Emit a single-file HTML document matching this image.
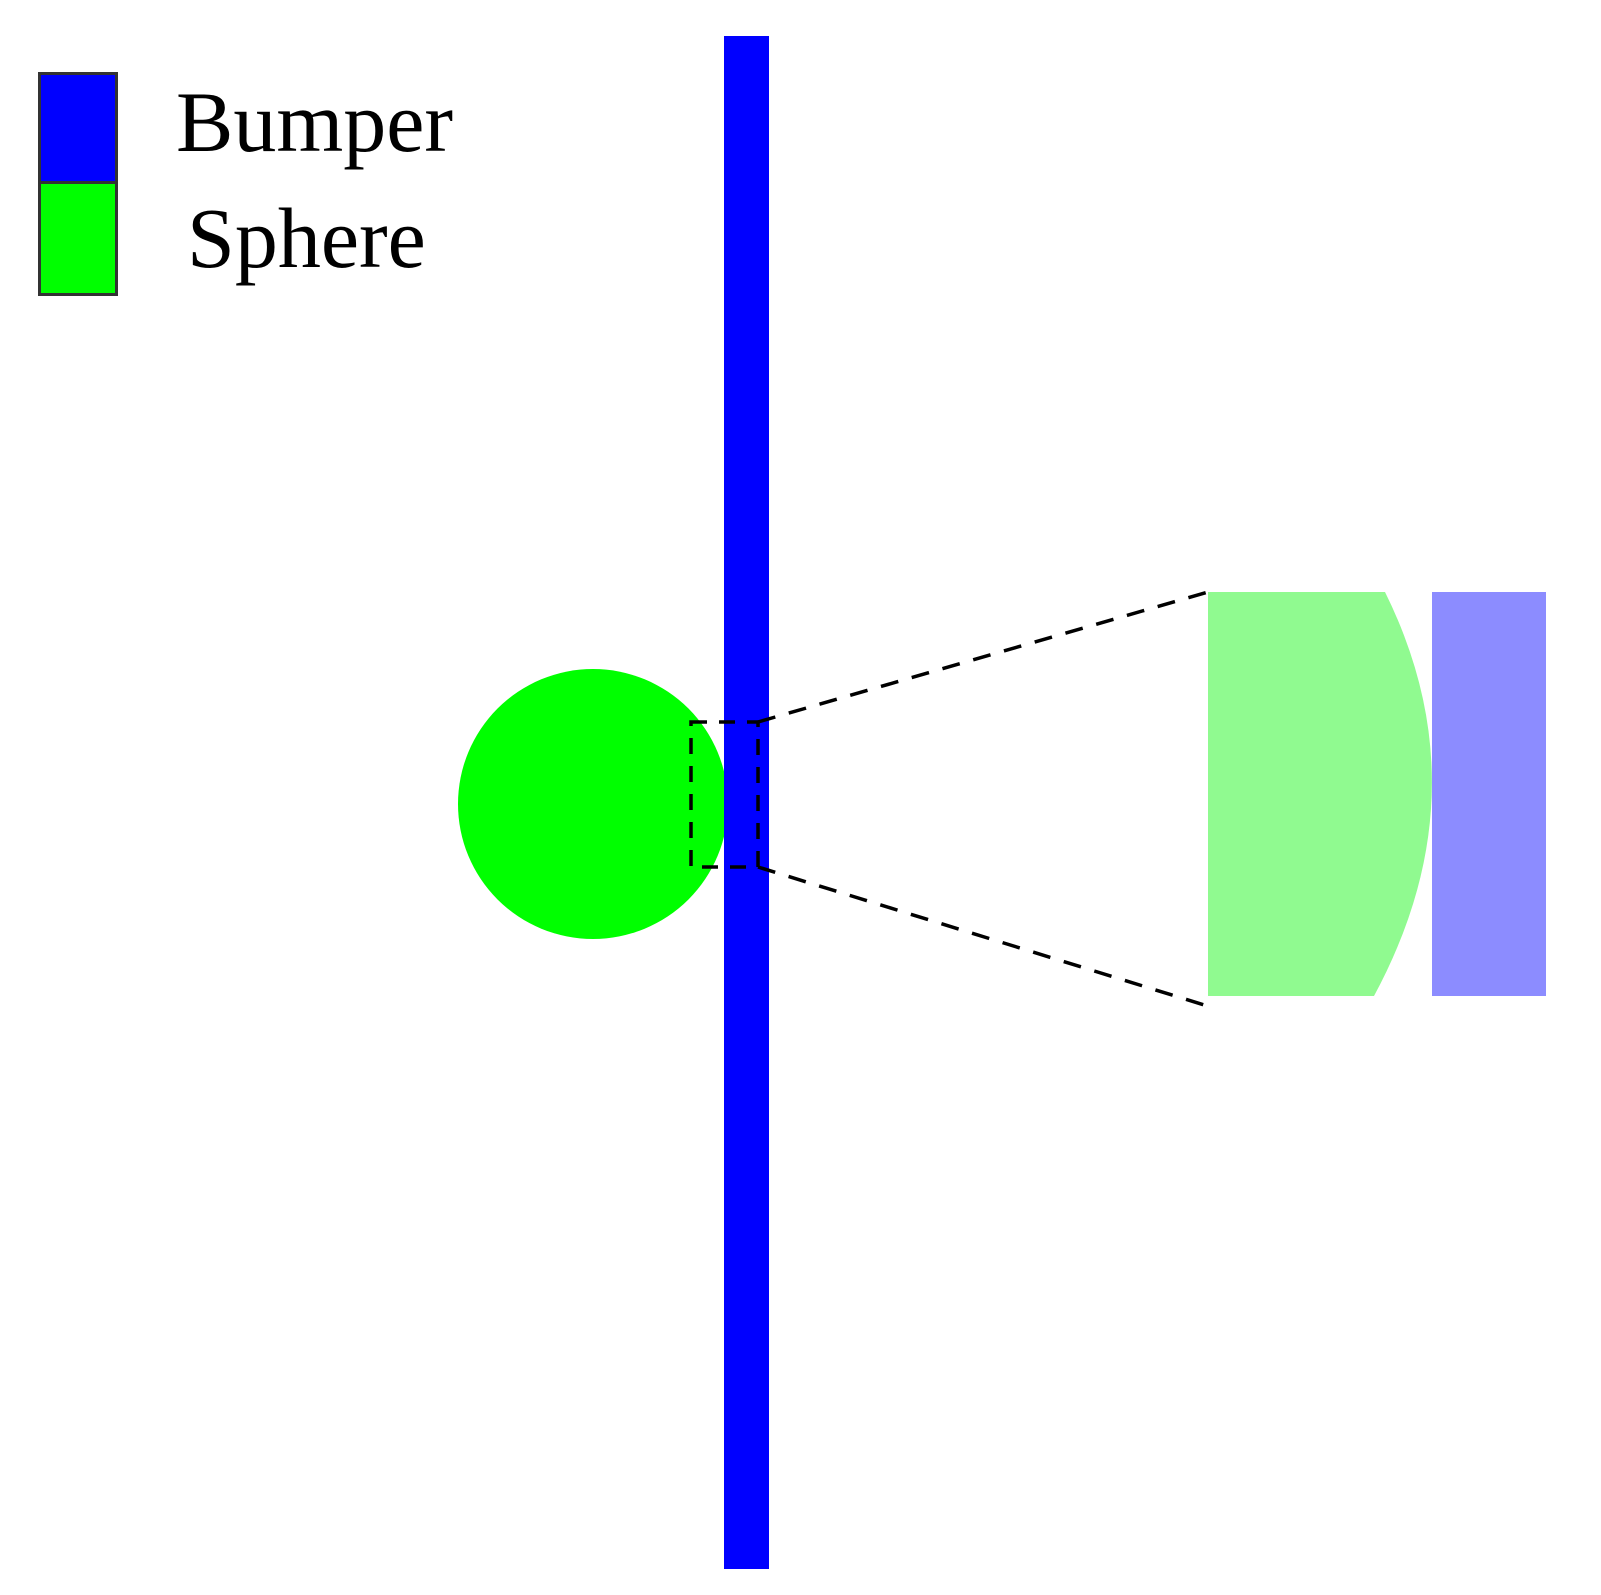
<!DOCTYPE html>
<html><head><meta charset="utf-8"><style>
html,body{margin:0;padding:0;background:#fff;}
svg{display:block;}
</style></head><body>
<svg width="1601" height="1595" viewBox="0 0 1601 1595" xmlns="http://www.w3.org/2000/svg">
<rect x="0" y="0" width="1601" height="1595" fill="#fff"/>
<rect x="39.5" y="73.5" width="77" height="109" fill="#0000ff" stroke="#333" stroke-width="3"/>
<rect x="39.5" y="182.5" width="77" height="112" fill="#00ff00" stroke="#333" stroke-width="3"/>
<text x="176" y="151" font-family="Liberation Serif, serif" font-size="86" fill="#000">Bumper</text>
<text x="187" y="267" font-family="Liberation Serif, serif" font-size="86" fill="#000">Sphere</text>
<circle cx="593" cy="804" r="135" fill="#00ff00"/>
<rect x="724" y="36" width="45" height="1533" fill="#0000ff"/>
<rect x="691" y="722" width="67" height="145" fill="none" stroke="#000" stroke-width="3.5" stroke-dasharray="16,12"/>
<line x1="758" y1="722" x2="1208" y2="592" stroke="#000" stroke-width="3.5" stroke-dasharray="18,14"/>
<line x1="758" y1="867" x2="1214" y2="1008" stroke="#000" stroke-width="3.5" stroke-dasharray="18,14"/>
<path d="M1208 592 L1385 592 Q1484 792 1374 996 L1208 996 Z" fill="#90fa90"/>
<rect x="1432" y="592" width="114" height="404" fill="#8c8cff"/>
</svg>
</body></html>
